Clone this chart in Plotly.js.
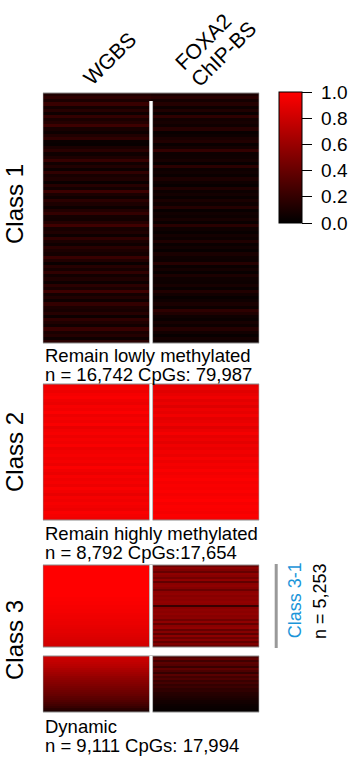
<!DOCTYPE html>
<html>
<head>
<meta charset="utf-8">
<script src="https://cdn.plot.ly/plotly-3.0.1.min.js"></script>
<style>html,body{margin:0;padding:0;background:#fff;}#chart{width:348px;height:757px;}</style>
</head>
<body>
<div id="chart"></div>
<script>
// ---- data (methylation level 0..1, rows top to bottom) ----
const columns = ['WGBS', 'FOXA2<br>ChIP-BS'];
const classLabels = ['Class 1', 'Class 2', 'Class 3'];

const class1WGBS = [0.12,0.18,0.10,0.22,0.08,0.15,0.06,0.20,0.10,0.14, 0.24,0.09,0.05,0.12,0.18,0.04,0.03,0.10,0.16,0.06,
  0.11,0.21,0.07,0.13,0.05,0.19,0.09,0.12,0.04,0.15, 0.08,0.23,0.10,0.06,0.17,0.11,0.05,0.13,0.20,0.08,
  0.07,0.14,0.25,0.09,0.12,0.05,0.18,0.10,0.06,0.16, 0.11,0.08,0.22,0.13,0.04,0.15,0.09,0.19,0.07,0.12,
  0.05,0.17,0.10,0.24,0.08,0.13,0.06,0.20,0.11,0.09, 0.15,0.05,0.18,0.12,0.07,0.22,0.10,0.14,0.06,0.16];
const class1FOXA2 = [0.10,0.16,0.08,0.14,0.05,0.12,0.04,0.18,0.07,0.09, 0.06,0.15,0.03,0.05,0.10,0.13,0.04,0.08,0.20,0.05,
  0.06,0.09,0.03,0.17,0.05,0.07,0.04,0.11,0.06,0.03, 0.12,0.05,0.08,0.04,0.10,0.06,0.14,0.03,0.07,0.05,
  0.09,0.04,0.16,0.06,0.03,0.08,0.05,0.12,0.04,0.07, 0.03,0.10,0.06,0.05,0.15,0.04,0.08,0.03,0.11,0.06,
  0.05,0.09,0.04,0.13,0.07,0.03,0.06,0.10,0.05,0.18, 0.12,0.06,0.04,0.09,0.05,0.14,0.07,0.03,0.08,0.05];

const class2WGBS = [0.95,0.97,0.93,0.96,0.98,0.94,0.92,0.97,0.95,0.99, 0.93,0.96,0.94,0.98,0.91,0.95,0.97,0.93,0.96,0.94,
  0.98,0.92,0.95,0.97,0.94,0.96,0.93,0.99,0.95,0.92, 0.97,0.94,0.96,0.93,0.98,0.95,0.91,0.96,0.94,0.97,
  0.95,0.93,0.98,0.96,0.94];
const class2FOXA2 = [0.90,0.93,0.88,0.91,0.94,0.89,0.92,0.87,0.93,0.90, 0.95,0.89,0.91,0.94,0.88,0.92,0.96,0.90,0.93,0.89,
  0.94,0.91,0.95,0.92,0.97,0.93,0.96,0.94,0.98,0.95, 0.97,0.99,0.96,0.98,0.97,0.99,0.96,0.98,1.00,0.97,
  0.99,0.98,0.96,0.99,0.97];

const class31WGBS = [1.00,1.00,1.00,1.00,1.00,1.00,1.00,1.00,1.00,1.00,1.00,1.00,1.00,1.00,1.00,1.00,
  0.99,0.99,0.98,0.98,0.97,0.97,0.96,0.96,0.95,0.94,0.94,0.93,0.92,0.92,0.91,0.90,0.89,0.89,0.88,0.87,0.86,0.85,0.84,0.83,0.82];
const class31FOXA2 = [0.42,0.55,0.50,0.40,0.56,0.53,0.45,0.57,0.38,0.54, 0.56,0.52,0.41,0.55,0.57,0.53,0.56,0.54,0.57,0.55,
  0.22,0.52,0.56,0.54,0.57,0.53,0.55,0.44,0.56,0.39, 0.54,0.57,0.40,0.52,0.36,0.55,0.42,0.53,0.38,0.50,0.40];

const class32WGBS = [0.80,0.79,0.77,0.75,0.73,0.71,0.68,0.66,0.63,0.61,0.58,0.56,0.54,0.52,0.50,0.48,0.46,0.44,0.42,0.40,
  0.37,0.35,0.32,0.29,0.26,0.22,0.17,0.12];
const class32FOXA2 = [0.30,0.38,0.25,0.36,0.33,0.22,0.37,0.30,0.20,0.35, 0.26,0.31,0.22,0.27,0.20,0.23,0.18,0.19,0.15,0.14,
  0.12,0.10,0.08,0.07,0.05,0.04,0.03,0.02];

const tickVals = [0, 0.2, 0.4, 0.6, 0.8, 1.0];
const tickLabels = ['0.0', '0.2', '0.4', '0.6', '0.8', '1.0'];

const captions = [
  ['Remain lowly methylated', 'n = 16,742 CpGs: 79,987'],
  ['Remain highly methylated', 'n = 8,792 CpGs:17,654'],
  ['Dynamic', 'n = 9,111 CpGs: 17,994']
];
const subLabel = 'Class 3-1';
const subCount = 'n = 5,253';

// ---- layout helpers (pixel -> paper) ----
const W = 348, H = 757;
const px = p => p / W;
const py = p => 1 - p / H;
const FONT = 'Liberation Sans, Arial, Helvetica, sans-serif';

const blocks = [
  {w: class1WGBS, f: class1FOXA2, top: 93, bot: 343, sepTop: 101},
  {w: class2WGBS, f: class2FOXA2, top: 384, bot: 520, sepTop: 384},
  {w: class31WGBS, f: class31FOXA2, top: 565, bot: 647, sepTop: 565},
  {w: class32WGBS, f: class32FOXA2, top: 656, bot: 712, sepTop: 656}
];

const traces = [];
const layout = {
  width: W, height: H,
  margin: {l: 0, r: 0, t: 0, b: 0},
  paper_bgcolor: '#fff', plot_bgcolor: '#fff',
  showlegend: false,
  font: {family: FONT, color: '#000', size: 19},
  xaxis: {domain: [px(43), px(260)], range: [-0.5, 1.5], visible: false, fixedrange: true},
  coloraxis: {
    cmin: 0, cmax: 1,
    colorscale: [[0, '#000000'], [1, '#ff0000']],
    colorbar: {
      x: px(279), xanchor: 'left', y: py(92), yanchor: 'top',
      len: 131, lenmode: 'pixels', thickness: 23, thicknessmode: 'pixels',
      xpad: 0, ypad: 0, outlinewidth: 1, outlinecolor: '#000',
      ticks: 'outside', ticklen: 10, tickwidth: 1, tickcolor: '#000',
      tickvals: tickVals, ticktext: tickLabels.map(t => '\u00a0' + t),
      tickfont: {family: FONT, size: 19, color: '#000'}
    }
  },
  shapes: [],
  annotations: []
};

const gapHalf = 1.5 / (217 / 2); // 1.5 px in data units
const BORDER = '#8a8a8a';
blocks.forEach((b, k) => {
  const yName = k === 0 ? 'y' : 'y' + (k + 1);
  const axName = k === 0 ? 'yaxis' : 'yaxis' + (k + 1);
  const z = b.w.map((v, i) => [v, b.f[i]]);
  traces.push({
    type: 'heatmap', z: z, x: [0, 1], y: b.w.map((_, i) => i),
    xaxis: 'x', yaxis: yName, coloraxis: 'coloraxis', hoverinfo: 'skip', zsmooth: false
  });
  layout[axName] = {domain: [py(b.bot), py(b.top)], range: [b.w.length - 0.5, -0.5],
    visible: false, fixedrange: true, anchor: 'x'};
  // outer border
  layout.shapes.push({type: 'rect', xref: 'x', yref: 'paper', x0: -0.5, x1: 1.5,
    y0: py(b.bot), y1: py(b.top), line: {color: BORDER, width: 1}, layer: 'above'});
  // separator (white) with gray edges
  layout.shapes.push({type: 'rect', xref: 'x', yref: 'paper', x0: 0.5 - gapHalf, x1: 0.5 + gapHalf,
    y0: py(b.bot + 1), y1: py(b.sepTop), fillcolor: '#fff', line: {width: 0}, layer: 'above'});
  [0.5 - gapHalf, 0.5 + gapHalf].forEach(xe => layout.shapes.push({type: 'line', xref: 'x', yref: 'paper',
    x0: xe, x1: xe, y0: py(b.bot), y1: py(b.sepTop), line: {color: '#bbbbbb', width: 1}, layer: 'above'}));
});

// gray bracket for Class 3-1
layout.shapes.push({type: 'line', xref: 'paper', yref: 'paper', x0: px(277), x1: px(277),
  y0: py(564), y1: py(648), line: {color: '#999999', width: 3}});

const ann = (text, x, y, opts) => Object.assign({text: text, x: px(x), y: py(y), xref: 'paper', yref: 'paper',
  showarrow: false, xanchor: 'center', yanchor: 'middle', font: {family: FONT, size: 19, color: '#000'}}, opts || {});

// column headers (rotated 45 degrees)
const HF = {family: FONT, size: 21, color: '#000'};
const headerPos = [[[110, 59]], [[204, 42], [224, 53]]];
columns.forEach((c, i) => c.split('<br>').forEach((line, j) =>
  layout.annotations.push(ann(line, headerPos[i][j][0], headerPos[i][j][1], {textangle: -45, font: HF}))));

// class labels
const classY = [204, 452, 640];
classLabels.forEach((t, i) => layout.annotations.push(ann(t, 14, classY[i], {textangle: -90, font: {family: FONT, size: 24, color: '#000'}})));

// captions
const capY = [[355.5, 374.5], [533.5, 552.5], [726.5, 745.5]];
const CF = {family: FONT, size: 18.5, color: '#000'};
captions.forEach((c, i) => {
  layout.annotations.push(ann(c[0], 43, capY[i][0], {xanchor: 'left', font: CF}));
  layout.annotations.push(ann(c[1], 43, capY[i][1], {xanchor: 'left', font: CF}));
});

layout.annotations.push(ann(subLabel, 296, 600, {textangle: -90, font: {family: FONT, size: 18, color: '#1b95d9'}}));
layout.annotations.push(ann(subCount, 321, 601, {textangle: -90, font: {family: FONT, size: 18, color: '#000'}}));

Plotly.newPlot('chart', traces, layout, {displayModeBar: false, staticPlot: true});
</script>
</body>
</html>
